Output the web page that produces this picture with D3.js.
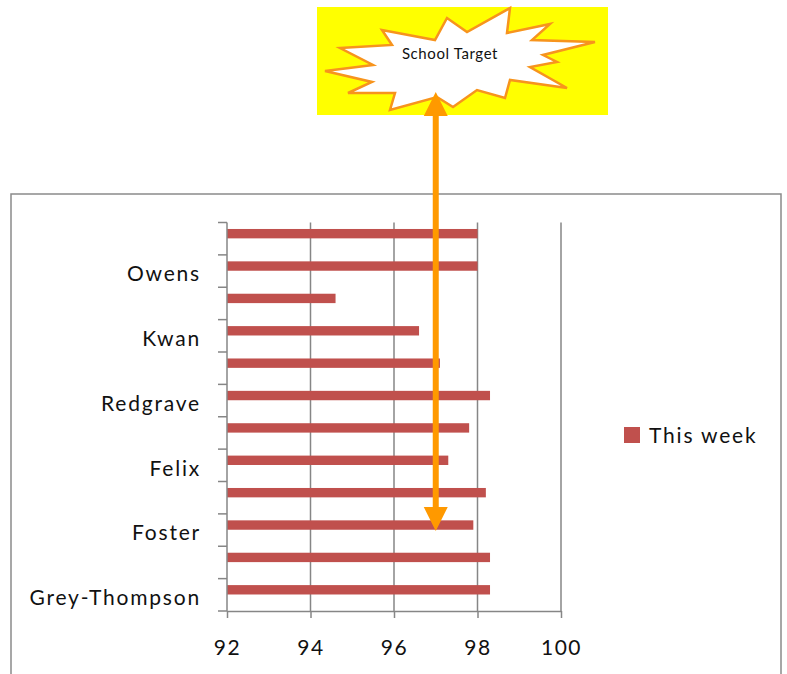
<!DOCTYPE html>
<html>
<head>
<meta charset="utf-8">
<script src="https://cdn.jsdelivr.net/npm/d3@7"></script>
<style>
    body { margin: 0; background: #fff; }
    text { font-family: Lato, "Open Sans", sans-serif; fill: #111; }
</style>
</head>
<body>
<div id="chart"></div>
<script>
// categories from bottom to top (Excel shows every other label)
var categories = ["Grey-Thompson", "", "Foster", "", "Felix", "", "Redgrave", "", "Kwan", "", "Owens", ""];
var thisWeek = [98.3, 98.3, 97.9, 98.2, 97.3, 97.8, 98.3, 97.1, 96.6, 94.6, 98.0, 98.0];
var xTicks = [92, 94, 96, 98, 100];
var seriesName = "This week";
var schoolTarget = 97;
var calloutText = "School Target";

var svgWidth = 787, svgHeight = 674;
var margin = { top: 222.5, left: 227, right: 226, bottom: 63 };
var chartWidth = svgWidth - margin.left - margin.right;
var chartHeight = svgHeight - margin.top - margin.bottom;

var svg = d3.select('#chart').append('svg')
    .attr('width', svgWidth)
    .attr('height', svgHeight);

// chart area border
svg.append('rect')
    .attr('x', 11).attr('y', 194)
    .attr('width', 770).attr('height', 500)
    .attr('fill', 'none')
    .attr('stroke', '#8a8a8a')
    .attr('stroke-width', 1.5);

var g = svg.append('g')
    .attr('transform', 'translate(' + [margin.left, margin.top] + ')');

var xScale = d3.scaleLinear()
    .domain([92, 100])
    .range([0, chartWidth]);

var idx = d3.range(categories.length);
var yScale = d3.scaleBand()
    .domain(idx)
    .range([chartHeight, 0]);
var bw = yScale.bandwidth();

// vertical gridlines
g.append('g')
    .selectAll('line')
    .data(xTicks.slice(1))
    .enter().append('line')
    .attr('x1', function (d) { return xScale(d); })
    .attr('x2', function (d) { return xScale(d); })
    .attr('y1', 0).attr('y2', chartHeight)
    .attr('stroke', '#868686')
    .attr('stroke-width', 1.5);

// bars
g.append('g')
    .selectAll('rect')
    .data(thisWeek)
    .enter().append('rect')
    .attr('x', xScale(92))
    .attr('y', function (d, i) { return yScale(i) + bw * 0.2; })
    .attr('height', bw * 0.29)
    .attr('width', function (d) { return xScale(d) - xScale(92); })
    .attr('fill', '#C0504D');

// x axis
var axisX = g.append('g')
    .attr('transform', 'translate(0,' + chartHeight + ')')
    .call(d3.axisBottom(xScale).tickValues(xTicks).tickSize(7).tickSizeOuter(0).tickPadding(22));
axisX.selectAll('path, line').attr('stroke', '#868686').attr('stroke-width', 1.5);
axisX.selectAll('text').style('font-size', '21px').style('letter-spacing', '1.5px').attr('fill', '#111');

// y axis: ticks on band boundaries, labels centred in bands
var bounds = idx.map(function (i) { return yScale(i); }).concat([chartHeight]);
var axisY = g.append('g');
axisY.append('line')
    .attr('x1', 0).attr('x2', 0).attr('y1', 0).attr('y2', chartHeight)
    .attr('stroke', '#868686').attr('stroke-width', 1.5);
axisY.selectAll('line.tick')
    .data(bounds)
    .enter().append('line')
    .attr('class', 'tick')
    .attr('x1', -9).attr('x2', 0)
    .attr('y1', function (d) { return d; })
    .attr('y2', function (d) { return d; })
    .attr('stroke', '#868686').attr('stroke-width', 1.5);
axisY.selectAll('text')
    .data(idx)
    .enter().append('text')
    .attr('x', -26)
    .attr('y', function (i) { return yScale(i) + bw / 2 + 3; })
    .attr('dy', '0.35em')
    .attr('text-anchor', 'end')
    .style('font-size', '21px')
    .style('letter-spacing', '1.8px')
    .text(function (i) { return categories[i]; });

// legend
var legend = svg.append('g').attr('transform', 'translate(624,427)');
legend.append('rect').attr('width', 16).attr('height', 16).attr('fill', '#C0504D');
legend.append('text').attr('x', 25).attr('y', 9).attr('dy', '0.35em')
    .style('font-size', '21px').style('letter-spacing', '1.8px').text(seriesName);

// callout: yellow box with explosion shape
var box = { x: 317, y: 7, w: 291, h: 108 };
svg.append('rect')
    .attr('x', box.x).attr('y', box.y)
    .attr('width', box.w).attr('height', box.h)
    .attr('fill', '#FFFF00');

var burst = [[8,64],[56,58],[23,41],[75,38],[65,23],[118,33],[130,11],[150,25],[193,1],[190,26],[233,17],[215,33],[278,35],[226,48],[240,55],[213,60],[250,81],[193,73],[188,91],[160,83],[136,100],[120,90],[73,103],[78,86],[31,86],[55,75]];
svg.append('path')
    .attr('transform', 'translate(' + [box.x, box.y] + ')')
    .attr('d', d3.line()(burst) + 'Z')
    .attr('fill', '#fff')
    .attr('stroke', '#F7941D')
    .attr('stroke-width', 2.5)
    .attr('stroke-linejoin', 'miter');

svg.append('text')
    .attr('x', 450).attr('y', 54)
    .attr('dy', '0.35em')
    .attr('text-anchor', 'middle')
    .style('font-size', '15px')
    .style('letter-spacing', '0.6px')
    .text(calloutText);

// double-headed target arrow
var ax = margin.left + xScale(schoolTarget);
var arrowTop = 92, arrowBottom = 531;
svg.append('line')
    .attr('x1', ax).attr('x2', ax)
    .attr('y1', arrowTop + 20).attr('y2', arrowBottom - 20)
    .attr('stroke', '#FF9900').attr('stroke-width', 6);
svg.append('path')
    .attr('d', 'M' + ax + ',' + arrowTop + 'L' + (ax + 12) + ',' + (arrowTop + 24) + 'L' + (ax - 12) + ',' + (arrowTop + 24) + 'Z')
    .attr('fill', '#FF9900');
svg.append('path')
    .attr('d', 'M' + ax + ',' + arrowBottom + 'L' + (ax + 12) + ',' + (arrowBottom - 24) + 'L' + (ax - 12) + ',' + (arrowBottom - 24) + 'Z')
    .attr('fill', '#FF9900');
</script>
</body>
</html>
